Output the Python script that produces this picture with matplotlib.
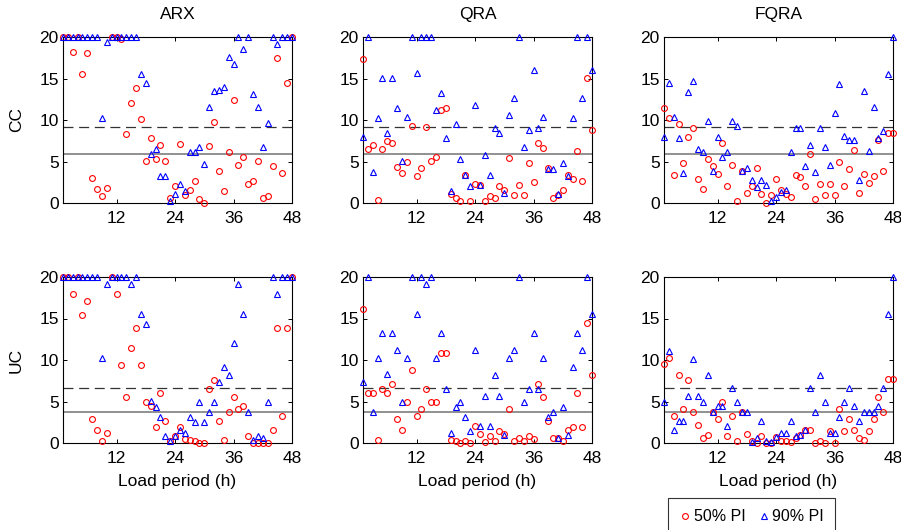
import numpy as np
import matplotlib
matplotlib.use("Agg")
import matplotlib.pyplot as plt

plt.rcParams['font.family'] = ['Liberation Sans', 'DejaVu Sans']
plt.rcParams['font.size'] = 12

hours = np.arange(1, 49)
methods = ['ARX', 'QRA', 'FQRA']
rows = ['CC', 'UC']
xticks = [12, 24, 36, 48]
yticks = [0, 5, 10, 15, 20]

# 50% PI (red circles) and 90% PI (blue triangles)
arx_cc_50 = [20, 20, 18.2, 20, 15.5, 18.1, 3.0, 1.7, 0.8, 1.8,
             20, 20, 19.7, 8.3, 12.1, 13.8, 10.1, 5.1, 7.8, 5.3,
             7.0, 5.1, 0.6, 2.1, 7.1, 1.0, 1.6, 2.6, 0.5, 0.0,
             6.9, 9.7, 3.8, 1.4, 6.1, 12.4, 4.6, 5.6, 2.3, 2.6,
             5.1, 0.6, 0.8, 4.4, 17.5, 3.6, 14.5, 20]
arx_cc_90 = [20, 20, 20, 20, 20, 20, 20, 20, 10.2, 19.4,
             20, 20, 20, 20, 20, 20, 15.6, 14.4, 5.9, 6.5,
             3.3, 3.3, 0.3, 1.1, 2.3, 1.5, 6.1, 6.1, 6.8, 4.7,
             11.6, 13.5, 13.6, 14.0, 17.6, 16.8, 20, 18.6, 20, 13.1,
             11.6, 6.8, 9.6, 20, 19.2, 20, 20, 20]
qra_cc_50 = [17.4, 6.5, 7.0, 0.4, 6.5, 7.5, 7.2, 4.3, 3.6, 5.0,
             9.3, 3.3, 4.2, 9.2, 5.1, 5.5, 11.2, 11.4, 1.1, 0.6,
             0.2, 3.4, 0.2, 2.3, 2.2, 0.2, 0.8, 0.6, 2.1, 1.6,
             5.4, 1.0, 2.2, 1.0, 4.8, 2.5, 7.2, 6.6, 4.2, 0.6,
             1.0, 1.6, 3.4, 2.9, 6.3, 2.6, 15.1, 8.8]
qra_cc_90 = [8.0, 20, 3.7, 10.2, 15.1, 8.4, 15.1, 11.4, 5.1, 10.4,
             20, 15.7, 20, 20, 20, 11.2, 13.3, 7.8, 1.4, 9.5,
             5.3, 3.4, 2.1, 11.8, 2.2, 5.8, 3.4, 9.0, 8.4, 1.2,
             10.6, 12.6, 20, 6.8, 8.8, 16.0, 9.0, 10.4, 4.1, 4.1,
             1.1, 4.8, 3.3, 10.3, 20, 12.6, 20, 16.0]
fqra_cc_50 = [11.4, 10.2, 3.4, 9.5, 4.8, 7.9, 9.0, 2.9, 1.7, 5.3,
              4.4, 3.5, 7.2, 2.0, 4.6, 0.2, 3.9, 1.2, 2.1, 4.2,
              1.1, 0.0, 1.0, 2.9, 1.6, 1.1, 0.7, 3.4, 3.1, 2.1,
              5.9, 0.5, 2.3, 1.0, 2.3, 1.0, 4.9, 2.0, 4.1, 6.4,
              1.2, 3.5, 2.4, 3.2, 7.6, 3.8, 8.4, 8.4]
fqra_cc_90 = [8.0, 14.5, 10.4, 7.8, 3.6, 13.4, 14.7, 6.5, 6.1, 9.9,
              3.9, 7.9, 5.5, 6.1, 9.9, 9.3, 3.9, 4.2, 2.8, 1.9,
              2.8, 2.2, 0.2, 0.7, 1.3, 1.6, 6.1, 9.0, 9.0, 4.5,
              7.0, 3.7, 9.0, 6.8, 4.6, 10.9, 14.3, 8.1, 7.6, 7.6,
              2.8, 13.5, 6.3, 11.6, 7.8, 8.7, 15.5, 20]
arx_uc_50 = [20, 20, 18.0, 20, 15.4, 17.1, 2.9, 1.6, 0.3, 1.2,
             20, 18.0, 9.4, 5.5, 11.5, 13.8, 9.4, 5.0, 4.5, 1.9,
             6.0, 2.6, 0.3, 0.9, 1.9, 0.5, 0.4, 0.3, 0.0, 0.0,
             6.5, 7.6, 2.6, 0.4, 3.7, 5.5, 4.1, 4.5, 0.9, 0.0,
             0.0, 0.0, 0.0, 1.6, 13.8, 3.3, 13.8, 20]
arx_uc_90 = [20, 20, 20, 20, 20, 20, 20, 20, 10.2, 19.2,
             20, 20, 20, 20, 19.2, 20, 15.5, 14.3, 5.1, 4.3,
             3.1, 0.9, 0.3, 0.9, 1.6, 1.2, 3.1, 2.5, 5.0, 2.5,
             3.7, 5.0, 7.3, 9.1, 8.2, 12.1, 19.2, 15.5, 3.7, 0.4,
             0.9, 0.6, 5.0, 20, 17.9, 20, 20, 20]
qra_uc_50 = [16.2, 6.0, 6.0, 0.4, 6.5, 6.0, 7.1, 2.9, 1.6, 5.0,
             8.8, 3.3, 4.1, 6.5, 5.0, 5.0, 10.8, 10.8, 0.4, 0.2,
             0.0, 0.3, 0.0, 2.0, 1.1, 0.1, 0.8, 0.2, 1.4, 1.1,
             4.1, 0.2, 0.6, 0.2, 0.8, 0.5, 7.1, 5.5, 2.6, 0.6,
             0.6, 0.2, 1.6, 1.9, 6.0, 1.9, 14.5, 8.2]
qra_uc_90 = [7.3, 20, 3.7, 10.2, 13.2, 8.3, 13.2, 11.2, 5.0, 10.2,
             20, 15.5, 20, 19.2, 20, 10.2, 13.2, 6.5, 1.2, 4.3,
             5.0, 3.1, 1.5, 11.2, 2.1, 5.7, 2.1, 8.2, 5.7, 1.0,
             10.2, 11.2, 20, 5.0, 6.5, 13.2, 6.5, 10.2, 3.1, 3.7,
             0.6, 4.3, 1.0, 9.2, 13.2, 11.2, 20, 15.5]
fqra_uc_50 = [9.5, 10.2, 3.3, 8.2, 4.1, 7.6, 3.7, 2.2, 0.6, 1.0,
              3.7, 2.9, 5.0, 0.9, 3.3, 0.2, 3.7, 1.1, 0.2, 0.0,
              0.9, 0.0, 0.0, 0.7, 0.2, 0.2, 0.1, 0.6, 1.0, 1.6,
              1.6, 0.0, 0.3, 0.0, 1.4, 0.0, 4.1, 1.4, 2.9, 1.6,
              0.6, 0.4, 1.4, 2.9, 5.5, 3.7, 7.7, 7.7]
fqra_uc_90 = [5.0, 11.1, 1.6, 2.6, 2.6, 5.7, 10.1, 5.7, 5.0, 8.2,
              3.7, 4.4, 4.4, 2.1, 6.6, 5.0, 3.7, 3.7, 0.1, 0.6,
              2.6, 0.2, 0.1, 0.7, 1.2, 1.2, 2.6, 0.9, 1.0, 1.6,
              6.6, 3.7, 8.2, 5.0, 1.2, 1.2, 3.1, 5.0, 6.6, 4.4,
              2.6, 3.7, 3.7, 3.7, 4.4, 6.6, 15.5, 20]

# reference levels per row (dashed, solid)
cc_levels = [9.2, 5.95]
uc_levels = [6.6, 3.75]

data = {
    ('CC', 'ARX'): (arx_cc_50, arx_cc_90),
    ('CC', 'QRA'): (qra_cc_50, qra_cc_90),
    ('CC', 'FQRA'): (fqra_cc_50, fqra_cc_90),
    ('UC', 'ARX'): (arx_uc_50, arx_uc_90),
    ('UC', 'QRA'): (qra_uc_50, qra_uc_90),
    ('UC', 'FQRA'): (fqra_uc_50, fqra_uc_90),
}
levels = {'CC': cc_levels, 'UC': uc_levels}

fig = plt.figure(figsize=(9.01, 5.30), dpi=100)
W, H = 901.0, 530.0
lefts = [63, 363, 664]
tops = [37, 277]
aw, ah = 229, 166

for r, row in enumerate(rows):
    for c, m in enumerate(methods):
        ax = fig.add_axes([lefts[c] / W, 1 - (tops[r] + ah) / H, aw / W, ah / H])
        p50, p90 = data[(row, m)]
        dash, solid = levels[row]
        ax.axhline(dash, color='0.2', lw=0.9, dashes=[8, 4.5], zorder=1)
        ax.axhline(solid, color='0.45', lw=1.1, zorder=1)
        l1, = ax.plot(hours, p50, 'o', ms=4.2, mfc='none', mec='#ff0000',
                      mew=0.8, clip_on=False, zorder=3, label='50% PI')
        l2, = ax.plot(hours, p90, '^', ms=4.8, mfc='none', mec='#0000ff',
                      mew=0.8, clip_on=False, zorder=3, label='90% PI')
        ax.set_xlim(1, 48)
        ax.set_ylim(0, 20)
        ax.set_xticks(xticks)
        ax.set_yticks(yticks)
        ax.tick_params(direction='in', top=True, right=True, length=3,
                       width=0.7, labelsize=12.5)
        ax.tick_params(axis='x', pad=6)
        ax.tick_params(axis='y', pad=3)
        for s in ax.spines.values():
            s.set_linewidth(0.8)
        if r == 0:
            ax.text(0.5, 1.135, m, transform=ax.transAxes, ha='center',
                    va='center', fontsize=12.5)
        if c == 0:
            ax.set_ylabel(row, fontsize=12.5)
            ax.yaxis.set_label_coords(-0.17, 0.5)
        if r == 1:
            ax.set_xlabel('Load period (h)', fontsize=12.5)
            ax.xaxis.label.set_va('center')
            ax.xaxis.set_label_coords(0.5, -0.23)

leg = fig.legend([l1, l2], ['50% PI', '90% PI'], loc='upper left',
                 bbox_to_anchor=(668 / W, 1 - 498 / H), ncol=2, fontsize=11.5,
                 frameon=True, fancybox=False, handletextpad=0.2,
                 columnspacing=0.8, handlelength=0.7, borderpad=0.7,
                 borderaxespad=0)
leg.get_frame().set_edgecolor('black')
leg.get_frame().set_linewidth(0.8)

fig.savefig('out.png', dpi=100)
